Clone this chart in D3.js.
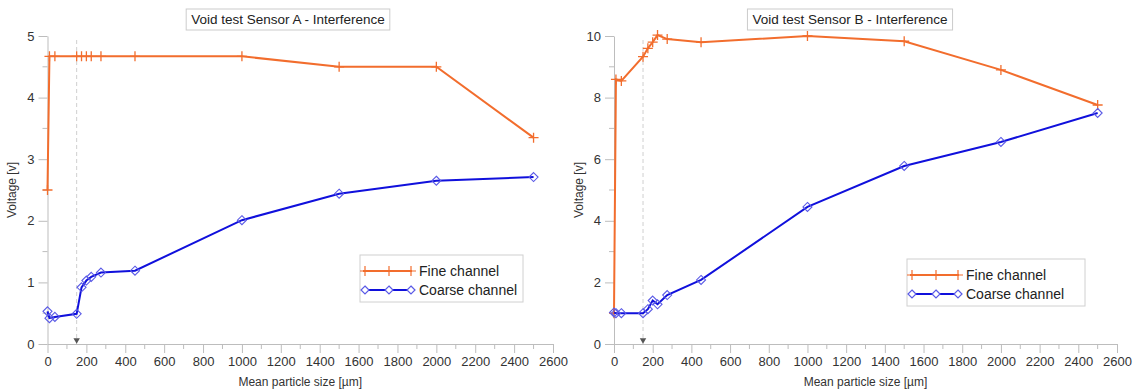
<!DOCTYPE html>
<html>
<head>
<meta charset="utf-8">
<script src="https://cdn.jsdelivr.net/npm/d3@7"></script>
<style>
  body { margin: 0; background: #fff; }
  svg { font-family: "Liberation Sans", Arial, sans-serif; }
</style>
</head>
<body>
<svg id="chart" width="1137" height="390"></svg>
<script>
// particle sizes (µm) shared by both tests
const sizes = [0, 10, 38, 150, 175, 200, 225, 275, 450, 1000, 1500, 2000, 2500];

// Sensor A
const fineA = [2.5, 4.67, 4.67, 4.67, 4.67, 4.67, 4.67, 4.67, 4.67, 4.67, 4.5, 4.5, 3.35];
const coarseA = [0.53, 0.42, 0.44, 0.49, 0.92, 1.03, 1.09, 1.16, 1.19, 2.01, 2.44, 2.65, 2.71];

// Sensor B
const fineB = [1.0, 8.59, 8.54, 9.33, 9.6, 9.8, 10.03, 9.9, 9.8, 10.0, 9.83, 8.9, 7.76];
const coarseB = [1.02, 1.0, 1.0, 1.0, 1.13, 1.41, 1.29, 1.59, 2.08, 4.45, 5.78, 6.56, 7.5];

const xTicks = d3.range(0, 2601, 200);
const yTicksA = [0, 1, 2, 3, 4, 5];
const yTicksB = [0, 2, 4, 6, 8, 10];
const titles = ["Void test Sensor A - Interference", "Void test Sensor B - Interference"];
const seriesNames = ["Fine channel", "Coarse channel"];
const cutoff = 150;

const orange = "#f26d2d";
const blue = "#1010dc";
const diamondColor = "#5a5ae6";
const axisColor = "#bdbdbd";

const svg = d3.select("#chart");

function drawChart(opt) {
  const x = d3.scaleLinear().domain([0, 2600]).range(opt.xRange);
  const y = d3.scaleLinear().domain([0, opt.yMax]).range([344, 36]);
  const g = svg.append("g");

  // x axis with minor ticks
  const xAxis = g.append("g").attr("transform", `translate(0,${y(0)})`);
  xAxis.call(d3.axisBottom(x).tickValues(xTicks).tickFormat(d => d)
    .tickSize(9).tickSizeOuter(0).tickPadding(4));
  xAxis.selectAll(".domain, .tick line").attr("stroke", axisColor);
  xAxis.selectAll("text").attr("font-size", 13).attr("fill", "#333").attr("font-family", "Liberation Sans, Arial, sans-serif");
  xAxis.selectAll(".minor").data(d3.range(100, 2600, 200)).enter()
    .append("line")
    .attr("x1", d => x(d)).attr("x2", d => x(d))
    .attr("y1", 0).attr("y2", 5)
    .attr("stroke", axisColor);

  // y axis with minor ticks
  const yAxis = g.append("g").attr("transform", `translate(${x(0)},0)`);
  yAxis.call(d3.axisLeft(y).tickValues(opt.yTicks).tickFormat(d => d)
    .tickSize(9).tickSizeOuter(0).tickPadding(4));
  yAxis.selectAll(".domain, .tick line").attr("stroke", axisColor);
  yAxis.selectAll("text").attr("font-size", 13).attr("fill", "#333").attr("font-family", "Liberation Sans, Arial, sans-serif");
  const step = opt.yTicks[1] - opt.yTicks[0];
  yAxis.selectAll(".minor").data(opt.yTicks.slice(0, -1).map(d => d + step / 2)).enter()
    .append("line")
    .attr("y1", d => y(d)).attr("y2", d => y(d))
    .attr("x1", 0).attr("x2", -5)
    .attr("stroke", axisColor);

  // axis labels
  g.append("text")
    .attr("x", (opt.xRange[0] + opt.xRange[1]) / 2)
    .attr("y", 386)
    .attr("text-anchor", "middle")
    .attr("font-size", 12)
    .attr("fill", "#333")
    .text("Mean particle size [µm]");
  g.append("text")
    .attr("transform", `translate(${opt.yLabelX},190) rotate(-90)`)
    .attr("text-anchor", "middle")
    .attr("font-size", 12)
    .attr("fill", "#333")
    .text("Voltage [v]");

  // cut-off marker
  g.append("line")
    .attr("x1", x(cutoff)).attr("x2", x(cutoff))
    .attr("y1", 40).attr("y2", y(0))
    .attr("stroke", "#cfcfcf")
    .attr("stroke-dasharray", "4,3");
  g.append("path")
    .attr("d", d3.symbol(d3.symbolTriangle, 18)())
    .attr("transform", `translate(${x(cutoff)},${y(0) - 4}) rotate(180)`)
    .attr("fill", "#555");

  // title in a box
  const tg = g.append("g");
  const tbox = tg.append("rect")
    .attr("fill", "#fff")
    .attr("stroke", "#cccccc");
  const title = tg.append("text")
    .attr("x", opt.titleX)
    .attr("y", 24)
    .attr("text-anchor", "middle")
    .attr("font-size", 13.5)
    .attr("fill", "#222")
    .text(opt.title);
  const tb = title.node().getBBox();
  tbox.attr("x", tb.x - 5).attr("y", 9)
    .attr("width", tb.width + 10).attr("height", 21);

  const line = d3.line().x((d, i) => x(sizes[i])).y(d => y(d));

  // fine channel
  g.append("path")
    .datum(opt.fine)
    .attr("d", line)
    .attr("fill", "none")
    .attr("stroke", orange)
    .attr("stroke-width", 2);
  g.selectAll(".plus").data(opt.fine).enter()
    .append("path")
    .attr("d", "M-5,0H5M0,-5V5")
    .attr("transform", (d, i) => `translate(${x(sizes[i])},${y(d)})`)
    .attr("stroke", orange)
    .attr("stroke-width", 1.3)
    .attr("fill", "none");

  // coarse channel
  g.append("path")
    .datum(opt.coarse)
    .attr("d", line)
    .attr("fill", "none")
    .attr("stroke", blue)
    .attr("stroke-width", 2);
  g.selectAll(".diamond").data(opt.coarse).enter()
    .append("path")
    .attr("d", "M0,-4.5L4.5,0L0,4.5L-4.5,0Z")
    .attr("transform", (d, i) => `translate(${x(sizes[i])},${y(d)})`)
    .attr("stroke", diamondColor)
    .attr("stroke-width", 1.1)
    .attr("fill", "none");

  // legend
  const lg = g.append("g").attr("transform", `translate(${opt.legend[0]},${opt.legend[1]})`);
  lg.append("rect")
    .attr("width", opt.legendW).attr("height", 47)
    .attr("fill", "#fff")
    .attr("stroke", "#d0d0d0");
  seriesNames.forEach((name, i) => {
    const yy = 16 + i * 19;
    const col = i === 0 ? orange : blue;
    lg.append("line")
      .attr("x1", 3).attr("x2", 52)
      .attr("y1", yy).attr("y2", yy)
      .attr("stroke", col).attr("stroke-width", 2);
    [5, 29, 51].forEach(px => {
      lg.append("path")
        .attr("d", i === 0 ? "M-5,0H5M0,-5V5" : "M0,-4L4,0L0,4L-4,0Z")
        .attr("transform", `translate(${px},${yy})`)
        .attr("stroke", i === 0 ? orange : diamondColor)
        .attr("stroke-width", 1.2)
        .attr("fill", i === 0 ? "none" : "#fff");
    });
    lg.append("text")
      .attr("x", 59).attr("y", yy + 5)
      .attr("font-size", 14)
      .attr("fill", "#222")
      .text(name);
  });
}

drawChart({
  xRange: [47.5, 553], yMax: 5, yTicks: yTicksA,
  fine: fineA, coarse: coarseA, title: titles[0],
  titleX: 288, yLabelX: 16, legend: [360, 255], legendW: 163
});
drawChart({
  xRange: [614, 1117], yMax: 10, yTicks: yTicksB,
  fine: fineB, coarse: coarseB, title: titles[1],
  titleX: 850, yLabelX: 583, legend: [907, 259], legendW: 178
});
</script>
</body>
</html>
